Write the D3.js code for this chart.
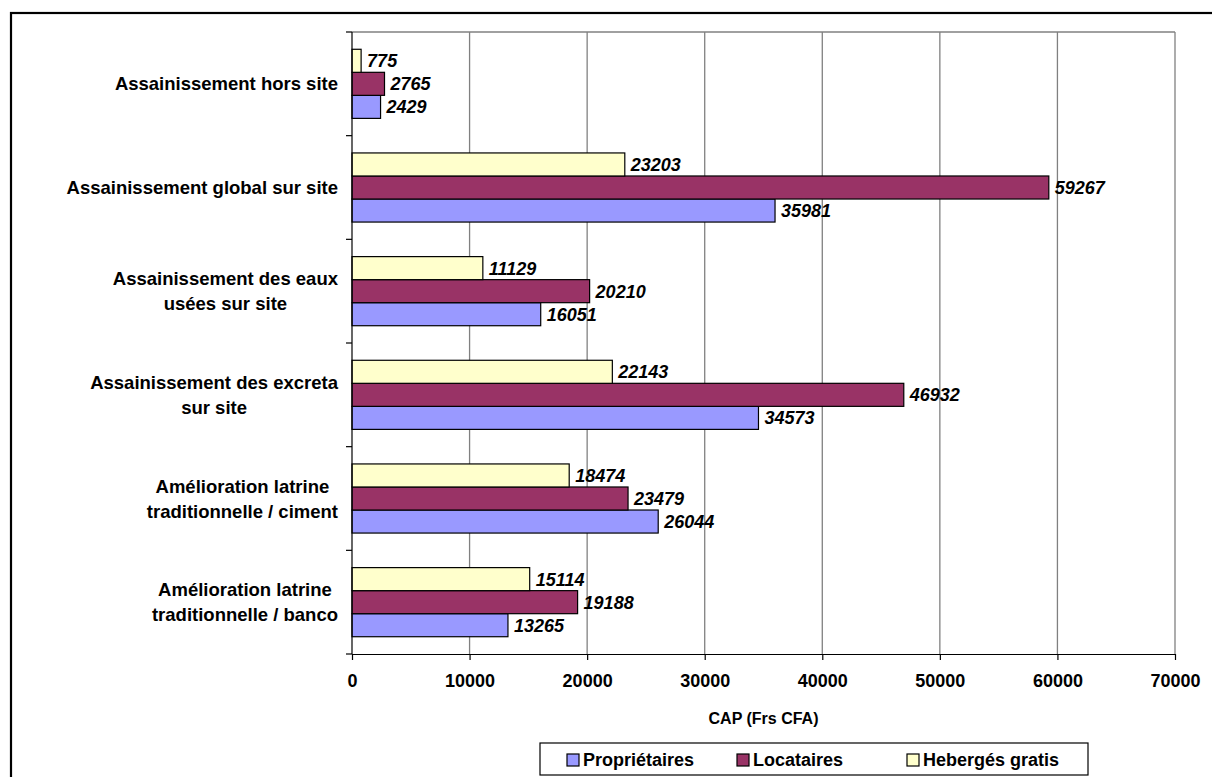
<!DOCTYPE html>
<html>
<head>
<meta charset="utf-8">
<script src="https://cdn.jsdelivr.net/npm/d3@7"></script>
<style>
  html, body { margin: 0; padding: 0; background: #fff; }
  svg { display: block; font-family: Arial, "Liberation Sans", sans-serif; }
</style>
</head>
<body>
<svg id="chart" width="1212" height="777"></svg>
<script>
// Categories, top to bottom; each entry is the list of label lines
const categories = [
  ["Assainissement hors site"],
  ["Assainissement global sur site"],
  ["Assainissement des eaux", "usées sur site"],
  ["Assainissement des excreta", "sur site"],
  ["Amélioration latrine", "traditionnelle / ciment"],
  ["Amélioration latrine", "traditionnelle / banco"]
];
const categoryKeys = ["hors", "global", "eaux", "excreta", "ciment", "banco"];

// CAP (Frs CFA) per household status
const proprietaires = [2429, 35981, 16051, 34573, 26044, 13265];
const locataires    = [2765, 59267, 20210, 46932, 23479, 19188];
const heberges      = [775, 23203, 11129, 22143, 18474, 15114];

const seriesNames  = ["Propriétaires", "Locataires", "Hebergés gratis"];
const seriesColors = ["#9999FF", "#993366", "#FFFFCC"];
const xTicks = [0, 10000, 20000, 30000, 40000, 50000, 60000, 70000];
const xTitle = "CAP (Frs CFA)";

const series = [
  { name: seriesNames[0], color: seriesColors[0], values: proprietaires },
  { name: seriesNames[1], color: seriesColors[1], values: locataires },
  { name: seriesNames[2], color: seriesColors[2], values: heberges }
];

const svg = d3.select("#chart");

// outer frame
svg.append("rect")
  .attr("x", 11).attr("y", 13)
  .attr("width", 1230).attr("height", 800)
  .attr("fill", "none").attr("stroke", "#000").attr("stroke-width", 2.2);

const plot = { left: 352, right: 1175, top: 32, bottom: 654 };

const x = d3.scaleLinear().domain([0, 70000]).range([plot.left, plot.right]);
const y = d3.scaleBand().domain(categoryKeys)
  .range([plot.top, plot.bottom]).paddingInner(1 / 3).paddingOuter(1 / 6);
// within a group: Hebergés on top, then Locataires, then Propriétaires
const inner = d3.scaleBand().domain([2, 1, 0]).range([0, y.bandwidth()]);

// gridlines
svg.append("g").selectAll("line").data(xTicks.slice(1))
  .join("line")
  .attr("x1", d => x(d)).attr("x2", d => x(d))
  .attr("y1", plot.top).attr("y2", plot.bottom)
  .attr("stroke", "#808080").attr("stroke-width", 1.3);
// plot area top border
svg.append("line")
  .attr("x1", plot.left).attr("x2", plot.right)
  .attr("y1", plot.top).attr("y2", plot.top)
  .attr("stroke", "#808080").attr("stroke-width", 1.3);

// bars
const groups = svg.append("g").selectAll("g").data(categoryKeys)
  .join("g").attr("transform", k => `translate(0,${y(k)})`);

groups.each(function (k, ci) {
  const g = d3.select(this);
  series.forEach((s, si) => {
    const v = s.values[ci];
    g.append("rect")
      .attr("x", x(0)).attr("y", inner(si))
      .attr("width", x(v) - x(0)).attr("height", inner.bandwidth())
      .attr("fill", s.color).attr("stroke", "#000").attr("stroke-width", 1.2);
    g.append("text")
      .attr("x", x(v) + 6).attr("y", inner(si) + inner.bandwidth() / 2)
      .attr("dy", "0.36em")
      .attr("font-size", 18).attr("font-weight", "bold").attr("font-style", "italic")
      .attr("fill", "#000")
      .text(v);
  });
});

// x axis
const xAxis = svg.append("g")
  .attr("transform", `translate(0,${plot.bottom})`)
  .call(d3.axisBottom(x).tickValues(xTicks).tickSize(6).tickSizeOuter(0).tickFormat(d3.format("d")));
xAxis.select(".domain").attr("stroke", "#000").attr("stroke-width", 1.2);
xAxis.selectAll(".tick line").attr("stroke", "#000").attr("stroke-width", 1.2);
xAxis.selectAll(".tick text")
  .attr("y", 20).attr("font-size", 18).attr("font-weight", "bold")
  .attr("font-family", "Arial, 'Liberation Sans', sans-serif").attr("fill", "#000");

// y axis line and ticks at group boundaries
const boundaries = d3.range(categoryKeys.length + 1).map(i => plot.top + i * y.step());
svg.append("line")
  .attr("x1", plot.left).attr("x2", plot.left)
  .attr("y1", plot.top).attr("y2", plot.bottom)
  .attr("stroke", "#000").attr("stroke-width", 1.2);
svg.append("g").selectAll("line").data(boundaries)
  .join("line")
  .attr("x1", plot.left - 6).attr("x2", plot.left)
  .attr("y1", d => d).attr("y2", d => d)
  .attr("stroke", "#000").attr("stroke-width", 1.2);

// category labels: block right-aligned, lines centred within the block
const labelRight = 338;
const lineH = 25;
categoryKeys.forEach((k, ci) => {
  const lines = categories[ci];
  const cy = y(k) + y.bandwidth() / 2;
  const t = svg.append("text")
    .attr("font-size", 18.5).attr("font-weight", "bold").attr("fill", "#000")
    .attr("text-anchor", "middle");
  const spans = lines.map((ln, li) =>
    t.append("tspan").attr("y", cy + (li - (lines.length - 1) / 2) * lineH).attr("dy", "0.36em").text(ln));
  const widths = spans.map(s => s.node().getComputedTextLength());
  const w = d3.max(widths);
  spans.forEach(s => s.attr("x", labelRight - w / 2));
});

// axis title
svg.append("text")
  .attr("x", (plot.left + plot.right) / 2).attr("y", 718)
  .attr("text-anchor", "middle").attr("dy", "0.36em")
  .attr("font-size", 16).attr("font-weight", "bold").attr("fill", "#000")
  .text(xTitle);

// legend
const legend = svg.append("g");
legend.append("rect")
  .attr("x", 540).attr("y", 743).attr("width", 548).attr("height", 32)
  .attr("fill", "#fff").attr("stroke", "#000").attr("stroke-width", 1.2);
const legendX = [567, 737, 907];
series.forEach((s, i) => {
  legend.append("rect")
    .attr("x", legendX[i]).attr("y", 754).attr("width", 12).attr("height", 12)
    .attr("fill", s.color).attr("stroke", "#000").attr("stroke-width", 1.2);
  legend.append("text")
    .attr("x", legendX[i] + 16).attr("y", 760).attr("dy", "0.36em")
    .attr("font-size", 18).attr("font-weight", "bold").attr("fill", "#000")
    .text(s.name);
});
</script>
</body>
</html>
